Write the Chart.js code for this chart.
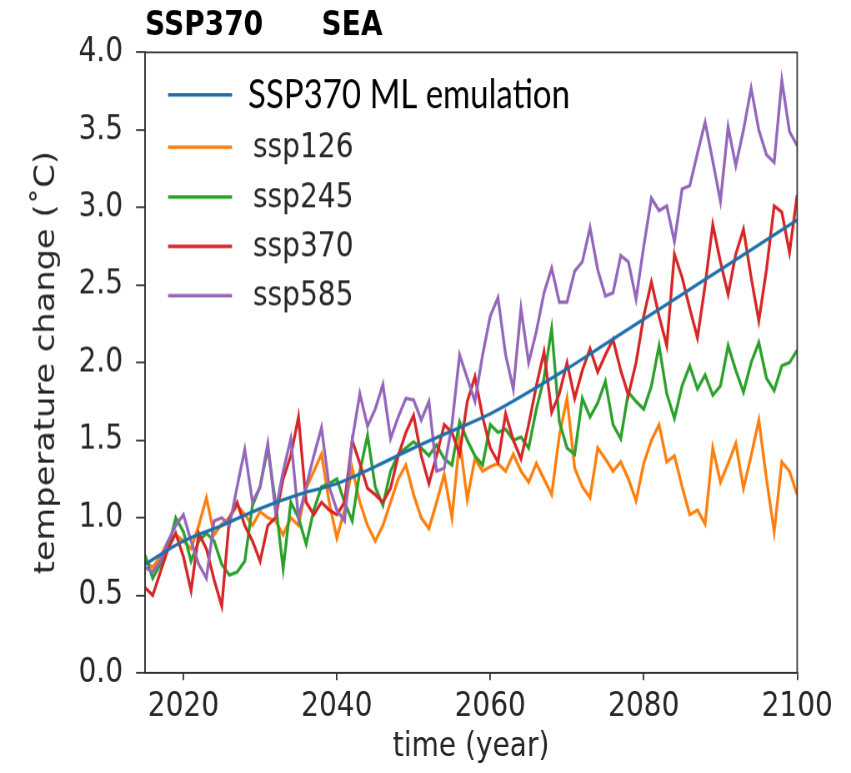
<!DOCTYPE html>
<html>
<head>
<meta charset="utf-8">
<script src="https://cdn.jsdelivr.net/npm/chart.js@4.4.1/dist/chart.umd.min.js"></script>
<style>
  body { margin: 0; background: #fff; }
  canvas { width: 851px !important; height: 773px !important; }
</style>
</head>
<body>
<canvas id="tempChart" width="851" height="644" style="width:851px;height:773px"></canvas>
<script>
// years 2015..2100 (x categories)
const years = Array.from({ length: 86 }, (_, i) => 2015 + i);
const xTicks = [2020, 2040, 2060, 2080, 2100];

// smooth ML emulation, read every 5 years
const mlYears = [2015, 2020, 2025, 2030, 2035, 2040, 2045, 2050, 2055, 2060, 2065, 2070, 2075, 2080, 2085, 2090, 2095, 2100];
const mlEmulation = [0.70, 0.85, 0.95, 1.06, 1.15, 1.22, 1.33, 1.45, 1.56, 1.67, 1.81, 1.96, 2.12, 2.28, 2.44, 2.60, 2.76, 2.92];

const ssp126 = [
  0.72, 0.68, 0.75, 0.85, 0.89, 0.85, 0.80, 0.95, 1.13, 0.89,
  0.96, 1.00, 1.08, 1.02, 0.95, 1.04, 1.00, 0.98, 0.89, 1.00,
  0.95, 1.19, 1.30, 1.41, 1.10, 0.87, 1.05, 1.32, 1.10, 0.95,
  0.85, 0.95, 1.10, 1.25, 1.34, 1.15, 1.00, 0.93, 1.10, 1.28,
  1.00, 1.50, 1.12, 1.38, 1.30, 1.33, 1.35, 1.30, 1.41, 1.30,
  1.23, 1.35, 1.25, 1.15, 1.53, 1.77, 1.32, 1.20, 1.13, 1.45,
  1.38, 1.30, 1.36, 1.25, 1.11, 1.35, 1.50, 1.60, 1.36, 1.40,
  1.20, 1.02, 1.05, 0.96, 1.45, 1.23, 1.35, 1.48, 1.19, 1.40,
  1.63, 1.25, 0.91, 1.36, 1.30, 1.15
];
const ssp245 = [
  0.76, 0.61, 0.70, 0.80, 1.00, 0.91, 0.72, 0.85, 0.90, 0.85,
  0.70, 0.63, 0.65, 0.72, 1.08, 1.20, 1.45, 1.10, 0.67, 1.10,
  1.00, 0.83, 1.05, 1.20, 1.22, 1.25, 1.10, 0.98, 1.30, 1.53,
  1.20, 1.08, 1.30, 1.41, 1.45, 1.49, 1.45, 1.40, 1.47, 1.38,
  1.34, 1.62, 1.50, 1.40, 1.34, 1.60, 1.55, 1.57, 1.50, 1.52,
  1.45, 1.70, 1.90, 2.22, 1.62, 1.45, 1.41, 1.77, 1.65, 1.74,
  1.88, 1.60, 1.51, 1.81, 1.75, 1.70, 1.85, 2.11, 1.80, 1.64,
  1.85, 1.98, 1.83, 1.92, 1.79, 1.85, 2.11, 1.95, 1.81, 2.00,
  2.13, 1.90, 1.82, 1.98, 2.00, 2.08
];
const ssp370 = [
  0.55, 0.50, 0.65, 0.80, 0.90, 0.75, 0.53, 0.90, 0.80, 0.60,
  0.43, 1.00, 1.10, 0.95, 0.85, 0.72, 0.95, 1.00, 1.25, 1.40,
  1.65, 1.10, 1.02, 1.10, 1.05, 1.02, 1.10, 1.50, 1.35, 1.19,
  1.15, 1.10, 1.19, 1.40, 1.55, 1.66, 1.40, 1.22, 1.40, 1.60,
  1.55, 1.41, 1.75, 1.91, 1.65, 1.45, 1.36, 1.67, 1.50, 1.38,
  1.60, 1.85, 2.07, 1.68, 1.80, 2.00, 1.77, 1.95, 2.09, 1.94,
  2.05, 2.15, 1.95, 1.79, 2.00, 2.30, 2.52, 2.30, 2.11, 2.70,
  2.55, 2.35, 2.16, 2.50, 2.89, 2.65, 2.44, 2.70, 2.86, 2.55,
  2.27, 2.60, 3.01, 2.97, 2.71, 3.08
];
const ssp585 = [
  0.68, 0.65, 0.72, 0.85, 0.95, 1.02, 0.85, 0.70, 0.61, 0.98,
  1.00, 0.95, 1.20, 1.44, 1.10, 1.20, 1.48, 1.04, 1.30, 1.51,
  1.00, 1.20, 1.40, 1.58, 1.20, 1.05, 0.98, 1.50, 1.80, 1.59,
  1.70, 1.86, 1.51, 1.65, 1.77, 1.76, 1.63, 1.75, 1.30, 1.32,
  1.60, 2.05, 1.90, 1.75, 2.05, 2.30, 2.42, 2.05, 1.83, 2.35,
  2.00, 2.20, 2.45, 2.61, 2.39, 2.39, 2.59, 2.65, 2.87, 2.60,
  2.43, 2.45, 2.69, 2.65, 2.41, 2.75, 3.06, 2.98, 3.01, 2.78,
  3.12, 3.14, 3.35, 3.55, 3.30, 3.04, 3.52, 3.27, 3.50, 3.77,
  3.50, 3.34, 3.29, 3.82, 3.49, 3.40
];

const toPoints = (xs, ys) => xs.map((x, i) => ({ x, y: ys[i] }));

Chart.defaults.font.family = "'DejaVu Sans', sans-serif";
Chart.defaults.color = '#262626';

// plot box + legend drawn inside the axes, like matplotlib
const frameAndLegend = {
  id: 'frameAndLegend',
  afterDraw(chart) {
    const { ctx, chartArea: a } = chart;
    ctx.save();
    ctx.strokeStyle = '#333';
    ctx.lineWidth = 1.5;
    ctx.strokeRect(a.left, a.top, a.right - a.left, a.bottom - a.top);

    const rows = [79, 122.5, 164, 205, 246];
    chart.data.datasets.forEach((ds, i) => {
      const y = rows[i];
      ctx.strokeStyle = ds.borderColor;
      ctx.lineWidth = 3;
      ctx.beginPath();
      ctx.moveTo(168, y);
      ctx.lineTo(232, y);
      ctx.stroke();
      ctx.textBaseline = 'middle';
      if (i === 0) {
        ctx.fillStyle = '#000';
        ctx.font = "33px Lato, 'Open Sans', sans-serif";
        ctx.fillText(ds.label, 248, y);
      } else {
        ctx.fillStyle = '#262626';
        ctx.font = "28px 'DejaVu Sans', sans-serif";
        ctx.fillText(ds.label, 253, y + 1);
      }
    });
    ctx.restore();
  }
};

const lineStyle = { pointRadius: 0, borderWidth: 2.8, fill: false, tension: 0 };

new Chart(document.getElementById('tempChart'), {
  type: 'line',
  data: {
    datasets: [
      { label: 'SSP370 ML emulation', data: toPoints(mlYears, mlEmulation), borderColor: '#1f6fa8', order: 0, ...lineStyle, cubicInterpolationMode: 'monotone' },
      { label: 'ssp126', data: toPoints(years, ssp126), borderColor: '#ff7f0e', order: 4, ...lineStyle },
      { label: 'ssp245', data: toPoints(years, ssp245), borderColor: '#2ca02c', order: 3, ...lineStyle },
      { label: 'ssp370', data: toPoints(years, ssp370), borderColor: '#d62728', order: 2, ...lineStyle },
      { label: 'ssp585', data: toPoints(years, ssp585), borderColor: '#9467bd', order: 1, ...lineStyle }
    ]
  },
  options: {
    responsive: false,
    devicePixelRatio: 1.2,
    animation: false,
    layout: { padding: { left: 0, right: 54, top: 0, bottom: 0 } },
    plugins: {
      legend: { display: false },
      tooltip: { enabled: false },
      title: {
        display: true,
        text: 'SSP370      SEA',
        align: 'start',
        fullSize: false,
        color: '#000',
        font: { size: 28, weight: 'bold' },
        padding: { top: 5, bottom: 5 }
      }
    },
    scales: {
      x: {
        type: 'linear',
        min: 2015,
        max: 2100,
        afterBuildTicks: s => { s.ticks = xTicks.map(v => ({ value: v })); },
        afterFit: s => { s.height = 84; },
        ticks: { callback: v => String(v), font: { size: 28 }, padding: 6, maxRotation: 0, autoSkip: false },
        grid: { drawOnChartArea: false, tickLength: 6, color: '#333', lineWidth: 1.5 },
        border: { color: '#333', width: 1.5 },
        title: { display: true, text: 'time (year)', font: { size: 28 }, padding: { top: 0, bottom: 5 } }
      },
      y: {
        min: 0,
        max: 4,
        afterFit: s => { s.width = 145; },
        ticks: { stepSize: 0.5, callback: v => v.toFixed(1), font: { size: 28 }, padding: 13 },
        grid: { drawOnChartArea: false, tickLength: 9, color: '#333', lineWidth: 1.5 },
        border: { color: '#333', width: 1.5 },
        title: { display: true, text: 'temperature change (˚C)', font: { size: 28 }, padding: { top: 30, bottom: 0 } }
      }
    }
  },
  plugins: [frameAndLegend]
});
</script>
</body>
</html>
